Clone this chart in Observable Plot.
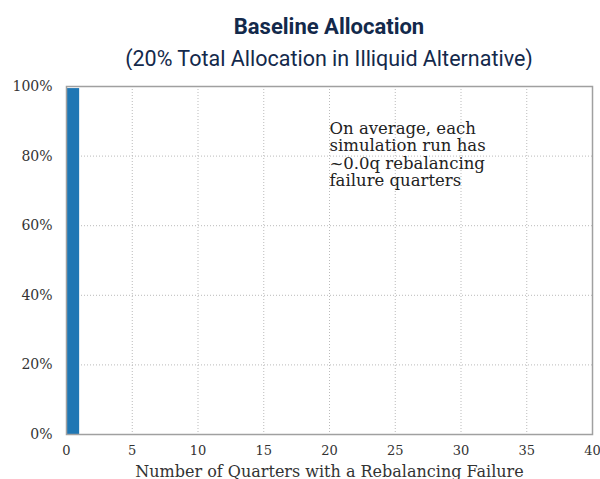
<!DOCTYPE html>
<html><head><meta charset="utf-8">
<script src="https://cdn.jsdelivr.net/npm/d3@7"></script>
<script src="https://cdn.jsdelivr.net/npm/@observablehq/plot@0.6"></script>
<style>
body{margin:0;background:#fff;width:600px;height:479px;overflow:hidden;position:relative}
#t{position:absolute;left:0;top:16px;width:658px;text-align:center;font:bold 22px/22px Roboto,sans-serif;color:#13294b}
#s{position:absolute;left:0;top:48px;width:658px;text-align:center;font:21.5px/21.5px Roboto,sans-serif;color:#13294b}
#c{position:absolute;left:0;top:70px}
#c svg text{font-family:"DejaVu Serif",serif}
</style></head><body>
<div id="t">Baseline Allocation</div>
<div id="s">(20% Total Allocation in Illiquid Alternative)</div>
<div id="c"></div>
<script>
const binStart = [0];
const binEnd = [1];
const share = [0.994];
const xTicks = [0,5,10,15,20,25,30,35,40];
const yTicks = [0,0.2,0.4,0.6,0.8,1.0];
const note = "On average, each\nsimulation run has\n~0.0q rebalancing\nfailure quarters";
const data = binStart.map((b,i)=>({x1:b,x2:binEnd[i],y:share[i]}));
const pct = d=>Math.round(d*100)+"%";
const chart = Plot.plot({
  width:600, height:409,
  marginLeft:66, marginRight:8, marginTop:16, marginBottom:45,
  style:{fontFamily:"DejaVu Serif", color:"#333", background:"#fff"},
  x:{domain:[0,40]},
  y:{domain:[0,1]},
  marks:[
    Plot.gridX(xTicks,{stroke:"#bbb",strokeOpacity:1,strokeDasharray:"1,2"}),
    Plot.gridY(yTicks,{stroke:"#bbb",strokeOpacity:1,strokeDasharray:"1,2"}),
    Plot.rectY(data,{x1:"x1",x2:"x2",y:"y",fill:"#1f77b4"}),
    Plot.text([note],{x:20,y:0.9,text:d=>d,textAnchor:"start",lineAnchor:"top",fontSize:16.5,fill:"#222",lineHeight:1.06,fontFamily:"DejaVu Serif"}),
    Plot.frame({stroke:"#a0a0a0",strokeWidth:1.5}),
    Plot.axisX({ticks:xTicks,tickSize:0,tickPadding:11,fontSize:13,fontFamily:"DejaVu Serif",
      label:"Number of Quarters with a Rebalancing Failure",labelAnchor:"center",labelArrow:"none",labelOffset:42}),
    Plot.axisY({ticks:yTicks,tickSize:0,tickPadding:14,fontSize:14,fontFamily:"DejaVu Serif",tickFormat:pct,label:null}),
  ]
});
chart.querySelectorAll("g[aria-label='x-axis label'] text").forEach(t=>t.setAttribute("font-size","16"));
document.getElementById("c").appendChild(chart);
</script>
</body></html>
